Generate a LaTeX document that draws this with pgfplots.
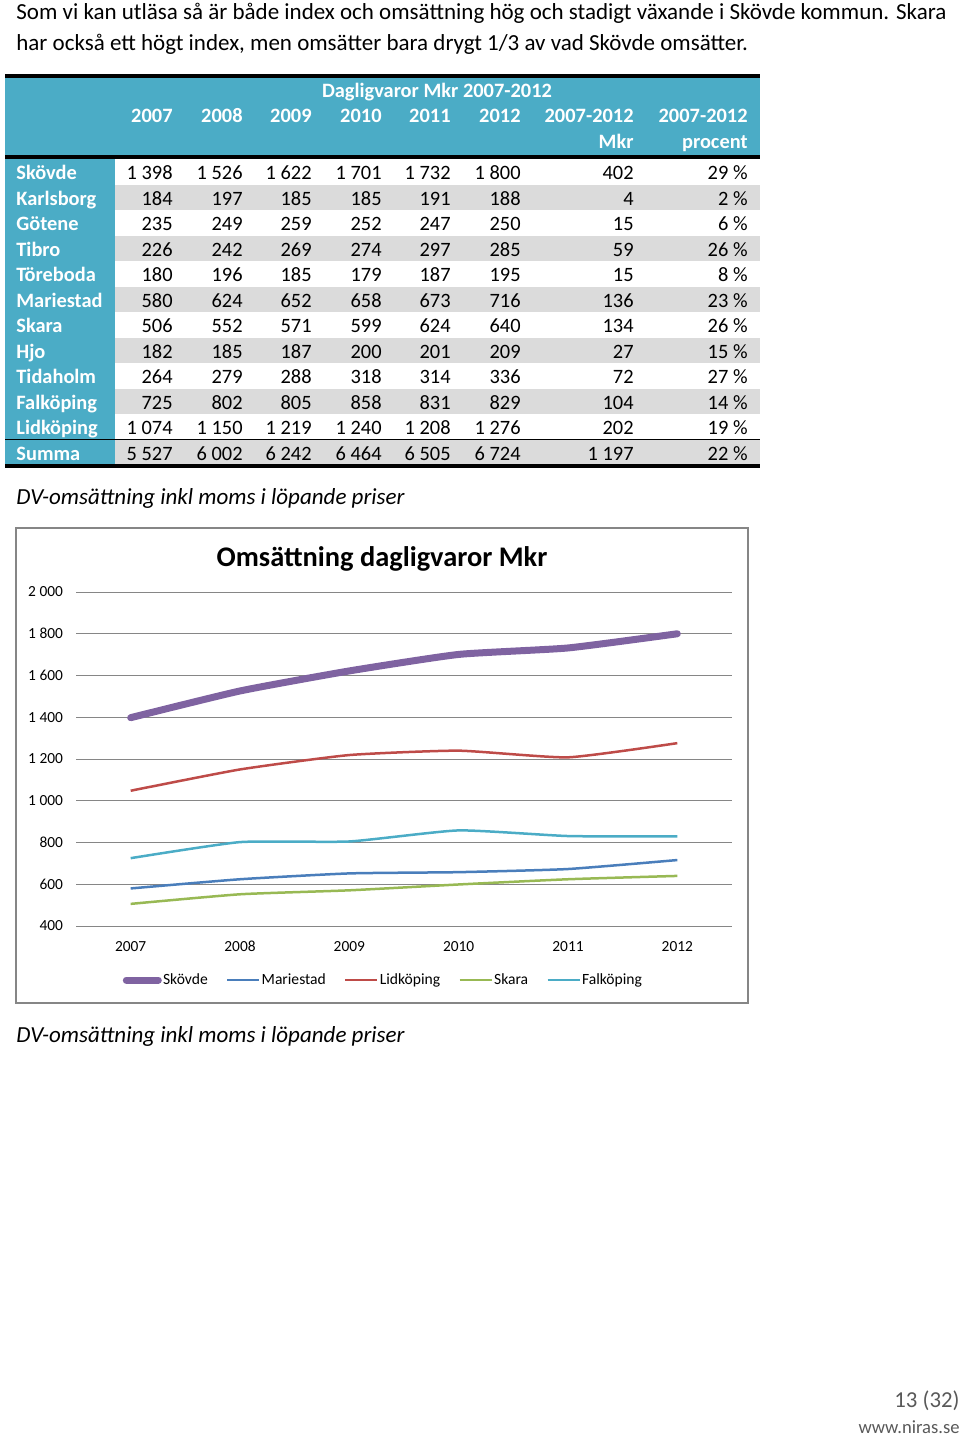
\documentclass[border=0pt]{standalone}
\usepackage{pgfplots}
\pgfplotsset{compat=1.18}
\usepackage{fontspec}
\setmainfont{Carlito}
\definecolor{hdr}{HTML}{4BACC6}
\definecolor{stripe}{HTML}{DBDBDB}
\definecolor{cSk}{HTML}{7F63A1}
\definecolor{cMa}{HTML}{4A7EBB}
\definecolor{cLi}{HTML}{BE4B48}
\definecolor{cSa}{HTML}{98B954}
\definecolor{cFa}{HTML}{4BACC6}
\definecolor{gridc}{HTML}{868686}
\definecolor{foot}{HTML}{595959}
\newcommand\bodyf{\fontsize{11.5}{13}\selectfont}
\newcommand\tf{\fontsize{10.2}{12}\selectfont}
\begin{document}
\begin{tikzpicture}
\begin{scope}[x=0.5pt,y=-0.5pt]
\path[use as bounding box] (0,0) rectangle (960,1436);
% body text
\node[anchor=base west,inner sep=0] at (16,19) {\bodyf Som vi kan utläsa så är både index och omsättning hög och stadigt växande i Skövde kommun. Skara};
\node[anchor=base west,inner sep=0] at (16,50) {\bodyf har också ett högt index, men omsätter bara drygt 1/3 av vad Skövde omsätter.};
% table backgrounds
\fill[hdr] (5,77) rectangle (760,157);
\fill[hdr] (5,157) rectangle (115,465);
\foreach \i in {1,3,5,7,9,11}{
  \fill[stripe] (115,{159+25.5*\i}) rectangle (760,{159+25.5*(\i+1)});
}
\draw[line width=2pt] (5,76) -- (760,76);
\draw[line width=2pt] (5,157) -- (760,157);
\draw[line width=0.6pt] (5,439.5) -- (760,439.5);
\draw[line width=2pt] (5,466) -- (760,466);
% header text
\begin{scope}[every node/.style={inner sep=0,text=white,font=\tf\bfseries}]
\node[anchor=base] at (437,97) {Dagligvaror Mkr 2007-2012};
\foreach \x/\t in {173/2007,243/2008,312/2009,382/2010,451/2011,521/2012,634/2007-2012,748/2007-2012}{
  \node[anchor=base east] at (\x,122) {\t};
}
\node[anchor=base east] at (634,148) {Mkr};
\node[anchor=base east] at (748,148) {procent};
\end{scope}
% table rows
\foreach \i/\lab/\a/\b/\c/\d/\e/\f/\g/\h in {
 0/Skövde/1~398/1~526/1~622/1~701/1~732/1~800/402/29~\%,
 1/Karlsborg/184/197/185/185/191/188/4/2~\%,
 2/Götene/235/249/259/252/247/250/15/6~\%,
 3/Tibro/226/242/269/274/297/285/59/26~\%,
 4/Töreboda/180/196/185/179/187/195/15/8~\%,
 5/Mariestad/580/624/652/658/673/716/136/23~\%,
 6/Skara/506/552/571/599/624/640/134/26~\%,
 7/Hjo/182/185/187/200/201/209/27/15~\%,
 8/Tidaholm/264/279/288/318/314/336/72/27~\%,
 9/Falköping/725/802/805/858/831/829/104/14~\%,
 10/Lidköping/1~074/1~150/1~219/1~240/1~208/1~276/202/19~\%,
 11/Summa/5~527/6~002/6~242/6~464/6~505/6~724/1~197/22~\%}{
  \node[anchor=base west,inner sep=0,text=white,font=\tf\bfseries] at (16,{179.5+25.5*\i}) {\lab};
  \node[anchor=base east,inner sep=0,font=\tf] at (173,{179.5+25.5*\i}) {\a};
  \node[anchor=base east,inner sep=0,font=\tf] at (243,{179.5+25.5*\i}) {\b};
  \node[anchor=base east,inner sep=0,font=\tf] at (312,{179.5+25.5*\i}) {\c};
  \node[anchor=base east,inner sep=0,font=\tf] at (382,{179.5+25.5*\i}) {\d};
  \node[anchor=base east,inner sep=0,font=\tf] at (451,{179.5+25.5*\i}) {\e};
  \node[anchor=base east,inner sep=0,font=\tf] at (521,{179.5+25.5*\i}) {\f};
  \node[anchor=base east,inner sep=0,font=\tf] at (634,{179.5+25.5*\i}) {\g};
  \node[anchor=base east,inner sep=0,font=\tf] at (748,{179.5+25.5*\i}) {\h};
}
% captions
\node[anchor=base west,inner sep=0] at (16,504) {\bodyf\itshape DV-omsättning inkl moms i löpande priser};
\node[anchor=base west,inner sep=0] at (16,1042) {\bodyf\itshape DV-omsättning inkl moms i löpande priser};
% chart frame and title
\draw[color=gridc,line width=0.9pt] (16,528) rectangle (748,1003);
\node[anchor=base,inner sep=0] at (382,566) {\fontsize{14.2}{16}\selectfont\bfseries Omsättning dagligvaror Mkr};
% footer
\node[anchor=base east,inner sep=0,text=foot] at (960,1407) {\fontsize{11.4}{13}\selectfont 13 (32)};
\node[anchor=base east,inner sep=0,text=foot] at (960,1433) {\fontsize{9.3}{11}\selectfont www.niras.se};
\end{scope}
\begin{axis}[
  at={(38pt,-463pt)}, anchor=south west,
  scale only axis, width=328pt, height=167pt,
  xmin=2006.5, xmax=2012.5, ymin=400, ymax=2000,
  xtick={2007,2008,2009,2010,2011,2012},
  xticklabels={2007,2008,2009,2010,2011,2012},
  ytick={400,600,800,1000,1200,1400,1600,1800,2000},
  yticklabels={400,600,800,1~000,1~200,1~400,1~600,1~800,2~000},
  axis line style={draw=none},
  major tick length=0pt,
  ymajorgrids,
  grid style={color=gridc,line width=0.5pt},
  tick label style={font=\fontsize{7.7}{9}\selectfont},
  yticklabel style={xshift=-3pt},
  xticklabel style={yshift=-4pt},
  clip=false,
  legend columns=5,
  legend style={at={(0.468,-0.162)},anchor=center,draw=none,fill=none,
    font=\fontsize{7.8}{9}\selectfont,
    nodes={inner sep=0.6pt},
    /tikz/every even column/.append style={column sep=8.5pt},
    inner sep=0pt},
  legend image code/.code={\draw[#1] (0pt,0pt) -- (16pt,0pt);},
]
\addplot[color=cSk,line width=3.5pt,line cap=round,smooth,tension=0.3] coordinates {(2007,1398) (2008,1526) (2009,1622) (2010,1701) (2011,1732) (2012,1800)};
\addlegendentry{Skövde}
\addplot[color=cMa,line width=1.25pt,smooth,tension=0.3] coordinates {(2007,580) (2008,624) (2009,652) (2010,658) (2011,673) (2012,716)};
\addlegendentry{Mariestad}
\addplot[color=cLi,line width=1.25pt,smooth,tension=0.3] coordinates {(2007,1048) (2008,1150) (2009,1219) (2010,1240) (2011,1208) (2012,1276)};
\addlegendentry{Lidköping}
\addplot[color=cSa,line width=1.25pt,smooth,tension=0.3] coordinates {(2007,506) (2008,552) (2009,571) (2010,599) (2011,624) (2012,640)};
\addlegendentry{Skara}
\addplot[color=cFa,line width=1.25pt,smooth,tension=0.3] coordinates {(2007,725) (2008,802) (2009,805) (2010,858) (2011,831) (2012,829)};
\addlegendentry{Falköping}
\end{axis}
\end{tikzpicture}
\end{document}
